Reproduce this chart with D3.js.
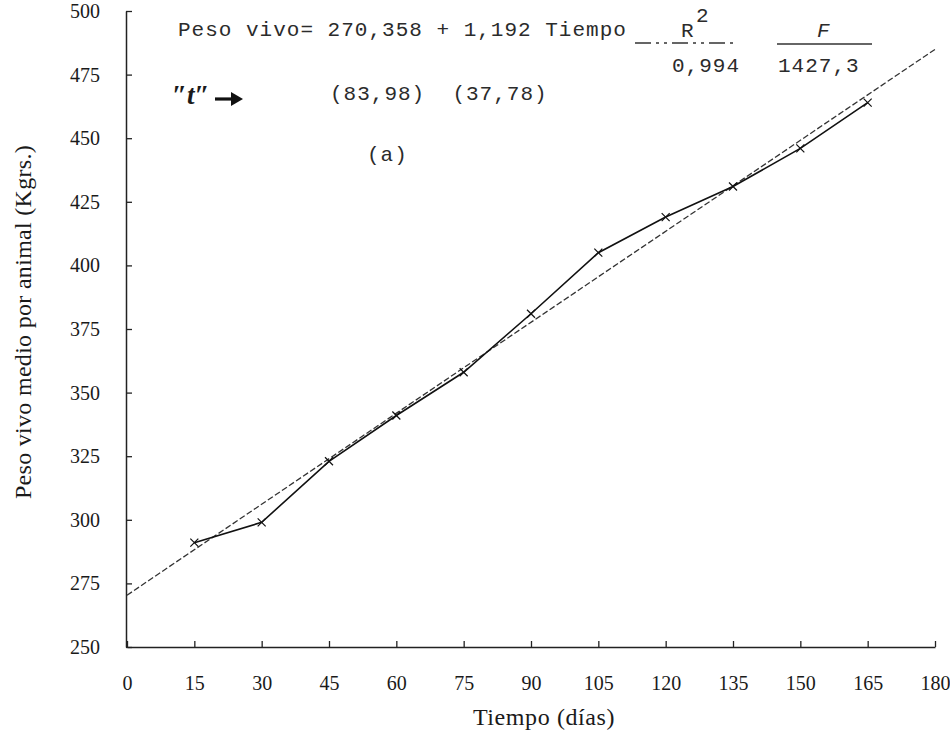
<!DOCTYPE html>
<html>
<head>
<meta charset="utf-8">
<script src="https://cdn.jsdelivr.net/npm/d3@7"></script>
<style>
  html, body { margin: 0; padding: 0; background: #fff; }
  svg { display: block; }
  .typed { font-family: "Liberation Mono", "DejaVu Sans Mono", monospace; font-size: 21px; letter-spacing: 1px; fill: #2b2b2b; white-space: pre; }
  .serif { font-family: "Liberation Serif", "DejaVu Serif", serif; fill: #1a1a1a; }
</style>
</head>
<body>
<svg id="chart" width="950" height="742"></svg>
<script>
// ---- data ----
const days = [15, 30, 45, 60, 75, 90, 105, 120, 135, 150, 165];
const peso = [291, 299, 323, 341, 358, 381, 405, 419, 431, 446, 464];
const xTicks = [0, 15, 30, 45, 60, 75, 90, 105, 120, 135, 150, 165, 180];
const yTicks = [250, 275, 300, 325, 350, 375, 400, 425, 450, 475, 500];
const intercept = 270.358;
const slope = 1.192;
const fitRange = [0, 180];
const eqText = "Peso vivo= 270,358 + 1,192 Tiempo";
const r2Value = "0,994";
const fValue = "1427,3";
const tValues = "(83,98)  (37,78)";
const panelLabel = "(a)";
const xTitle = "Tiempo (días)";
const yTitle = "Peso vivo medio por animal (Kgrs.)";

const svg = d3.select("#chart");
const x = d3.scaleLinear().domain([0, 180]).range([127, 935]);
const y = d3.scaleLinear().domain([250, 500]).range([647, 11]);

// ---- axes ----
const xAxis = d3.axisBottom(x).tickValues(xTicks).tickSize(-6).tickSizeOuter(0).tickPadding(29).tickFormat(d3.format("d"));
const gx = svg.append("g").attr("transform", `translate(0,${y(250)})`).call(xAxis);
gx.select(".domain").attr("stroke", "#222").attr("stroke-width", 1.5);
gx.selectAll(".tick line").attr("stroke", "#222").attr("stroke-width", 1.3);
gx.selectAll(".tick text").attr("class", "serif").attr("font-size", 20).attr("fill", "#1a1a1a");

const yAxis = d3.axisLeft(y).tickValues(yTicks).tickSize(-6).tickSizeOuter(0).tickPadding(26).tickFormat(d3.format("d"));
const gy = svg.append("g").attr("transform", `translate(${x(0) - 1},0)`).call(yAxis);
gy.select(".domain").attr("stroke", "#222").attr("stroke-width", 1.5);
gy.selectAll(".tick line").attr("stroke", "#222").attr("stroke-width", 1.3);
gy.selectAll(".tick text").attr("class", "serif").attr("font-size", 20).attr("fill", "#1a1a1a");

// ---- axis titles ----
svg.append("text").attr("class", "serif")
  .attr("x", 544).attr("y", 725).attr("text-anchor", "middle")
  .attr("font-size", 24).attr("letter-spacing", 0.6)
  .text(xTitle);
svg.append("text").attr("class", "serif")
  .attr("transform", `translate(31,322) rotate(-90)`)
  .attr("text-anchor", "middle").attr("font-size", 24).attr("letter-spacing", 0.3)
  .text(yTitle);

// ---- fitted regression line ----
const fitLine = fitRange.map(t => [t, intercept + slope * t]);
svg.append("path")
  .datum(fitLine)
  .attr("d", d3.line().x(d => x(d[0])).y(d => y(d[1])))
  .attr("fill", "none").attr("stroke", "#333").attr("stroke-width", 1.3)
  .attr("stroke-dasharray", "6,2.5");

// ---- observed data line ----
const pts = days.map((d, i) => [d, peso[i]]);
svg.append("path")
  .datum(pts)
  .attr("d", d3.line().x(d => x(d[0])).y(d => y(d[1])))
  .attr("fill", "none").attr("stroke", "#111").attr("stroke-width", 1.6);

// markers (small crosses)
const m = svg.append("g").attr("stroke", "#111").attr("stroke-width", 1.2);
pts.forEach(d => {
  const cx = x(d[0]), cy = y(d[1]);
  m.append("path").attr("d", `M${cx - 4},${cy - 4}L${cx + 4},${cy + 4}M${cx - 4},${cy + 4}L${cx + 4},${cy - 4}`);
});

// ---- annotations ----
svg.append("text").attr("class", "typed").attr("x", 178).attr("y", 36).text(eqText);

svg.append("text").attr("class", "typed").attr("x", 681).attr("y", 37).text("R");
svg.append("text").attr("class", "typed").attr("x", 696).attr("y", 22).attr("font-size", 17).text("2");
svg.append("line").attr("x1", 635).attr("x2", 735).attr("y1", 43).attr("y2", 43)
  .attr("stroke", "#333").attr("stroke-width", 1.4).attr("stroke-dasharray", "16,5,3,5,3,5");
svg.append("text").attr("class", "typed").attr("x", 817).attr("y", 37)
  .attr("font-size", 17).attr("font-style", "italic").attr("fill", "#666").text("F");
svg.append("line").attr("x1", 777).attr("x2", 872).attr("y1", 44).attr("y2", 44)
  .attr("stroke", "#333").attr("stroke-width", 1.4);

svg.append("text").attr("class", "typed").attr("x", 672).attr("y", 72).text(r2Value);
svg.append("text").attr("class", "typed").attr("x", 778).attr("y", 72).text(fValue);

svg.append("text").attr("class", "serif")
  .attr("x", 172).attr("y", 104).attr("font-size", 27).attr("font-weight", "bold").attr("font-style", "italic")
  .text("\u2033t\u2033");
// bold arrow
svg.append("path")
  .attr("d", "M215,99L233,99")
  .attr("stroke", "#111").attr("stroke-width", 3.2).attr("fill", "none");
svg.append("path")
  .attr("d", "M231,92L243,99L231,106Z")
  .attr("fill", "#111");

svg.append("text").attr("class", "typed").attr("x", 330).attr("y", 100).text(tValues);
svg.append("text").attr("class", "typed").attr("x", 367).attr("y", 161).text(panelLabel);
</script>
</body>
</html>
